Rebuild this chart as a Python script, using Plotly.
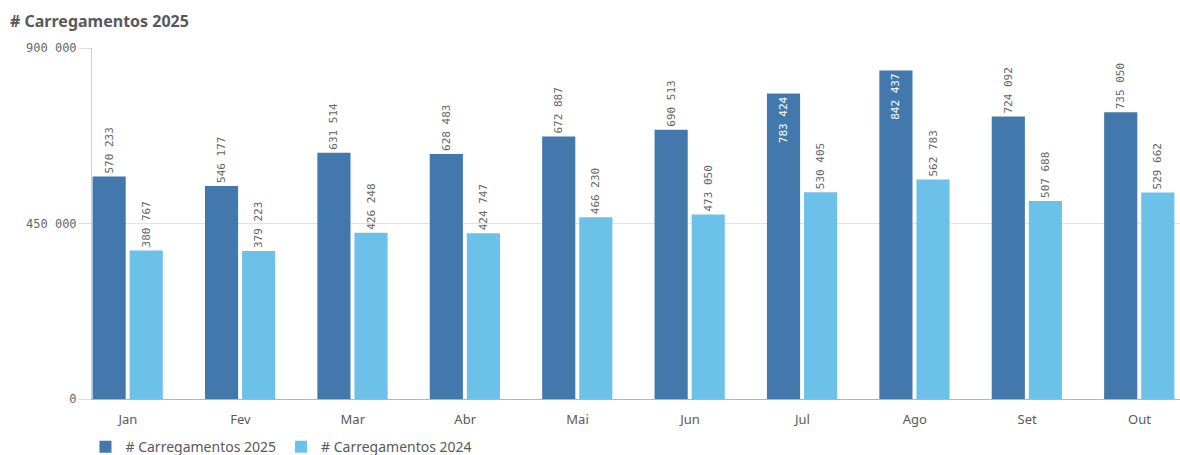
import plotly.graph_objects as go

months = ["Jan", "Fev", "Mar", "Abr", "Mai", "Jun", "Jul", "Ago", "Set", "Out"]
carreg_2025 = [570233, 546177, 631514, 628483, 672887, 690513, 783424, 842437, 724092, 735050]
carreg_2024 = [380767, 379223, 426248, 424747, 466230, 473050, 530405, 562783, 507688, 529662]
y_ticks = [0, 450000, 900000]

y_max = 900000
dark = "#4278ab"
light = "#6cc1e9"
num_font = "DejaVu Sans Mono"
txt_font = "Noto Sans"

def positions(vals):
    return ["inside" if v > 0.84 * y_max else "outside" for v in vals]

fig = go.Figure()
fig.add_trace(go.Bar(
    x=months, y=carreg_2025, name="# Carregamentos 2025",
    marker=dict(color=dark, line=dict(width=0)),
    width=0.295, offset=-0.315,
    texttemplate="%{y:,}", textangle=-90,
    textposition=positions(carreg_2025),
    insidetextanchor="end",
    insidetextfont=dict(color="white", family=num_font, size=11),
    outsidetextfont=dict(color="#666666", family=num_font, size=11),
    cliponaxis=False,
))
fig.add_trace(go.Bar(
    x=months, y=carreg_2024, name="# Carregamentos 2024",
    marker=dict(color=light, line=dict(width=0)),
    width=0.295, offset=0.015,
    texttemplate="%{y:,}", textangle=-90,
    textposition=positions(carreg_2024),
    insidetextanchor="end",
    insidetextfont=dict(color="white", family=num_font, size=11),
    outsidetextfont=dict(color="#666666", family=num_font, size=11),
    cliponaxis=False,
))

fig.update_layout(
    width=1180, height=455,
    margin=dict(l=92, r=0, t=48, b=56, autoexpand=False),
    paper_bgcolor="white", plot_bgcolor="white",
    separators=". ",
    uniformtext=dict(minsize=11, mode="show"),
    title=dict(text="<b># Carregamentos 2025</b>", x=10 / 1180, xref="container", xanchor="left",
               y=0.953, yref="container", yanchor="middle",
               font=dict(family=txt_font, size=16, color="#595959")),
    showlegend=True,
    legend=dict(orientation="h", x=-0.006, xanchor="left", y=-0.137, yanchor="middle",
                font=dict(family=txt_font, size=14, color="#595959"),
                itemclick=False, traceorder="normal"),
    xaxis=dict(range=[-0.32, 9.36], showgrid=False,
               showline=True, linecolor="#b5b5b5", linewidth=1,
               ticks="", ticklabelstandoff=8,
               tickfont=dict(family=txt_font, size=13, color="#595959")),
    yaxis=dict(range=[0, y_max], tickvals=y_ticks, tickformat=",",
               showgrid=True, gridcolor="#e2e2e2", gridwidth=1,
               zeroline=False,
               showline=True, linecolor="#d0d0d0", linewidth=1,
               ticks="outside", ticklen=12, tickcolor="#dcdcdc",
               tickfont=dict(family=num_font, size=12, color="#666666")),
)

fig.write_html("out.html")
